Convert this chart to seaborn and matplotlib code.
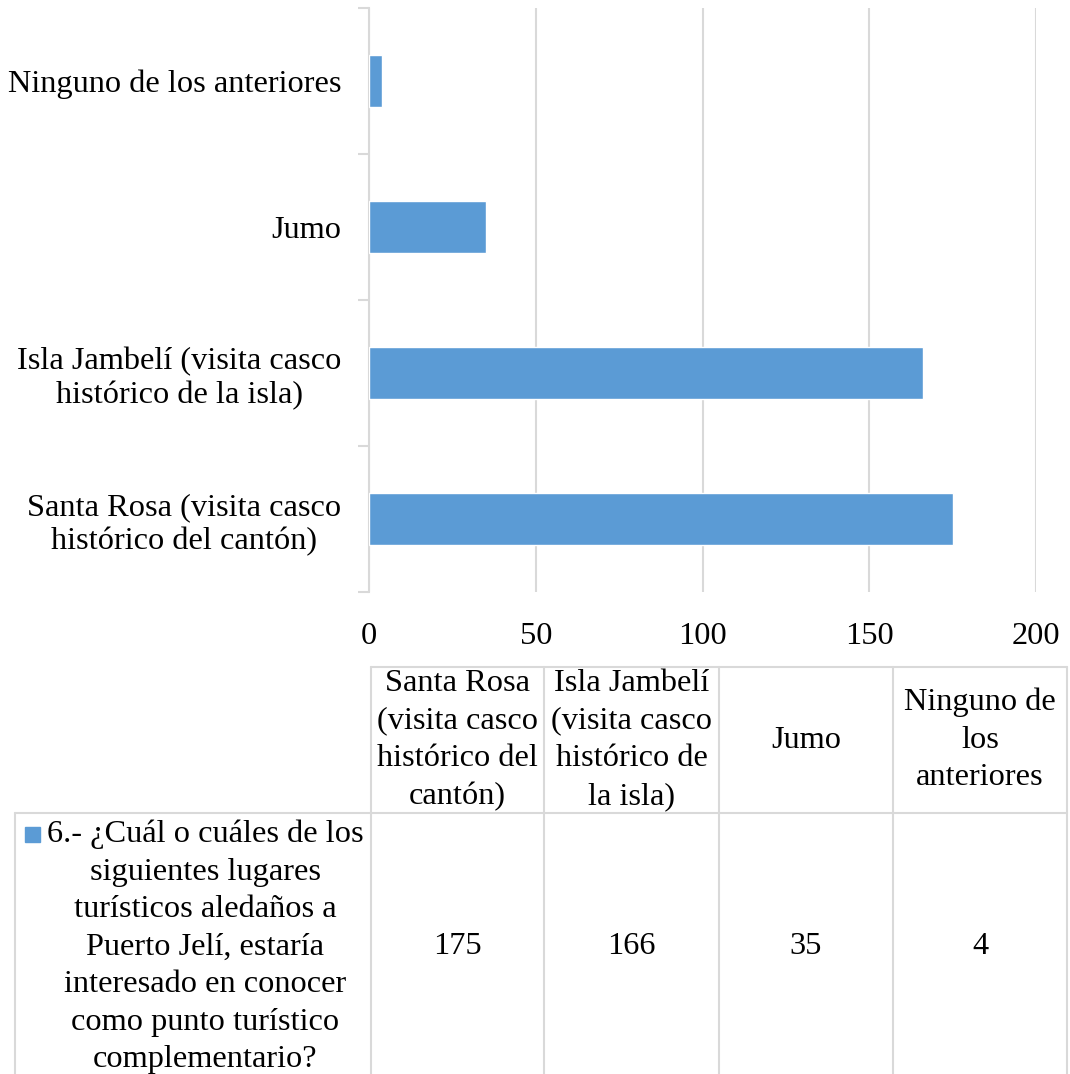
import numpy as np
import pandas as pd
import matplotlib
matplotlib.use("Agg")
import matplotlib.pyplot as plt
import seaborn as sns

# data
categories = ["Santa Rosa (visita casco histórico del cantón)",
              "Isla Jambelí (visita casco histórico de la isla)",
              "Jumo",
              "Ninguno de los anteriores"]
values = [175, 166, 35, 4]
axis_labels = ["Santa Rosa (visita casco\nhistórico del cantón)",
               "Isla Jambelí (visita casco\nhistórico de la isla)",
               "Jumo",
               "Ninguno de los anteriores"]
table_headers = ["Santa Rosa\n(visita casco\nhistórico del\ncantón)",
                 "Isla Jambelí\n(visita casco\nhistórico de\nla isla)",
                 "Jumo",
                 "Ninguno de\nlos\nanteriores"]
series_name = ("6.- ¿Cuál o cuáles de los\nsiguientes lugares\nturísticos aledaños a\n"
               "Puerto Jelí, estaría\ninteresado en conocer\ncomo punto turístico\ncomplementario?")
x_ticks = [0, 50, 100, 150, 200]

BLUE = "#5B9BD5"
GRID = "#D9D9D9"
FS = 23.3
LS = 1.39

sns.set_theme(style="white")
plt.rcParams["font.family"] = ["Liberation Serif", "DejaVu Serif"]
plt.rcParams["text.color"] = "black"
plt.rcParams["xtick.color"] = "black"
plt.rcParams["ytick.color"] = "black"

W, H = 1070, 1074
fig = plt.figure(figsize=(W / 100, H / 100), dpi=100)

# chart axes (pixel layout)
x0, x1, y0, y1 = 369, 1036, 8, 592
ax = fig.add_axes([x0 / W, 1 - y1 / H, (x1 - x0) / W, (y1 - y0) / H])

df = pd.DataFrame({"cat": axis_labels, "val": values})
order = axis_labels[::-1]
sns.barplot(data=df, x="val", y="cat", order=order, color=BLUE, width=0.36,
            saturation=1, ax=ax, zorder=3)
ax.set_xlim(0, 200)
ax.set_ylim(len(order) - 0.5, -0.5)
ax.set_xticks(x_ticks)
ax.set_xticklabels([str(t) for t in x_ticks], fontsize=FS)
ax.set_yticks(range(len(order)))
ax.set_yticklabels(order, fontsize=FS, multialignment="center", linespacing=1.22)
ax.set_yticks(np.arange(-0.5, len(order), 1.0), minor=True)
ax.tick_params(axis="y", which="major", left=True, length=0, pad=20,
               labelcolor="black")
ax.tick_params(axis="y", which="minor", left=True, length=8, width=1.5, color=GRID)
ax.tick_params(axis="x", length=0, pad=21.5, labelcolor="black")
ax.set_xlabel("")
ax.set_ylabel("")
ax.grid(axis="x", color=GRID, lw=1.5, zorder=0)
for s in ["top", "right", "bottom"]:
    ax.spines[s].set_visible(False)
ax.spines["left"].set_color(GRID)
ax.spines["left"].set_linewidth(1.5)

# data table below the chart
tax = fig.add_axes([0, 0, 1, 1], zorder=-1)
tax.set_xlim(0, W)
tax.set_ylim(H, 0)
tax.axis("off")
cols = [371, 544, 719, 893, 1067]
top, mid, bot, left = 667, 813, 1090, 15
tax.plot([cols[0], cols[-1]], [top, top], color=GRID, lw=1.5)
tax.plot([left, cols[-1]], [mid, mid], color=GRID, lw=1.5)
tax.plot([left, left], [mid, bot], color=GRID, lw=1.5)
for c in cols:
    tax.plot([c, c], [top, bot], color=GRID, lw=1.5)
for i, (hdr, v) in enumerate(zip(table_headers, values)):
    cx = (cols[i] + cols[i + 1]) / 2
    tax.text(cx, (top + mid) / 2, hdr, ha="center", va="center", fontsize=FS,
             multialignment="center", linespacing=LS)
    tax.text(cx, 947, str(v), ha="center", va="center", fontsize=FS)
tax.text(205, 947, series_name, ha="center", va="center", fontsize=FS,
         multialignment="center", linespacing=LS)
tax.add_patch(plt.Rectangle((25, 827), 15, 15, color=BLUE))

fig.savefig("out.png", dpi=100)
